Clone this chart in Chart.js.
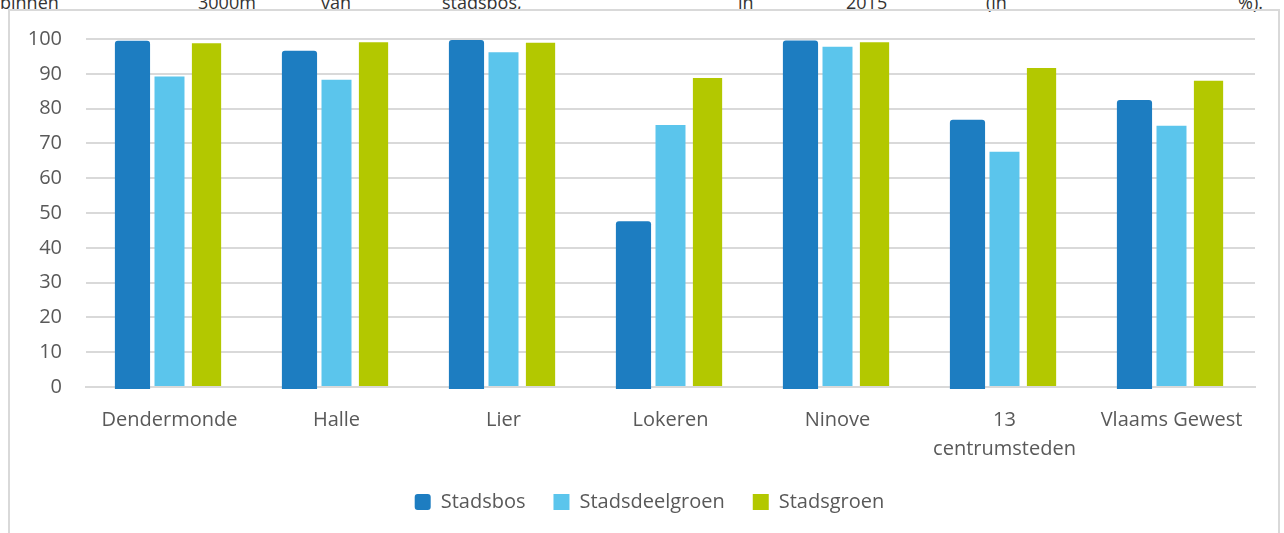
<!DOCTYPE html>
<html>
<head>
<meta charset="utf-8">
<script src="https://cdn.jsdelivr.net/npm/chart.js@4"></script>
<style>
  html, body { margin: 0; padding: 0; background: #fff; overflow: hidden; }
  body { width: 1284px; height: 533px; position: relative; font-family: "Open Sans", sans-serif; }
  .caption span { position: absolute; top: -7px; font-size: 18px; line-height: 18px; color: #333; white-space: nowrap; }
  #frame { position: absolute; left: 8px; top: 9px; width: 1272px; height: 600px; border: 2px solid #d9d9d9; box-sizing: border-box; }
  #wrap { position: absolute; left: 10px; top: 11px; width: 1280px; height: 522px; }
</style>
</head>
<body>
<div class="caption">
  <span style="left:0px">binnen</span>
  <span style="left:198px">3000m</span>
  <span style="left:321px">van</span>
  <span style="left:442px">stadsbos,</span>
  <span style="left:738px">in</span>
  <span style="left:846px">2015</span>
  <span style="left:986px">(in</span>
  <span style="left:1238px">%).</span>
</div>
<div id="frame"></div>
<div id="wrap"><canvas id="chart"></canvas></div>
<script>
  // Aandeel inwoners binnen bereik van groen, per stad
  const categories = ['Dendermonde', 'Halle', 'Lier', 'Lokeren', 'Ninove', ['13', 'centrumsteden'], 'Vlaams Gewest'];
  const stadsbos = [99.5, 96.6, 99.7, 47.6, 99.6, 76.8, 82.5];
  const stadsdeelgroen = [89.2, 88.3, 96.2, 75.3, 97.8, 67.6, 75.1];
  const stadsgroen = [98.8, 99.1, 98.9, 88.8, 99.1, 91.7, 88.0];
  const yTicks = [0, 10, 20, 30, 40, 50, 60, 70, 80, 90, 100];

  const textColor = '#595959';
  const gridColor = '#d9d9d9';

  // nudge the legend row a little to the right of the canvas centre
  const legendShift = {
    id: 'legendShift',
    afterLayout(chart) {
      chart.legend.left += 12;
      chart.legend.right += 12;
    }
  };

  const ctx = document.getElementById('chart');
  new Chart(ctx, {
    type: 'bar',
    data: {
      labels: categories,
      datasets: [
        {
          label: 'Stadsbos',
          data: stadsbos,
          backgroundColor: '#1d7dc1',
          barPercentage: 0.95,
          base: -0.6,
          borderRadius: { topLeft: 3, topRight: 3, bottomLeft: 0, bottomRight: 0 },
          borderSkipped: false
        },
        {
          label: 'Stadsdeelgroen',
          data: stadsdeelgroen,
          backgroundColor: '#5bc5ec',
          barPercentage: 0.81
        },
        {
          label: 'Stadsgroen',
          data: stadsgroen,
          backgroundColor: '#b3c800',
          barPercentage: 0.79
        }
      ]
    },
    options: {
      responsive: true,
      maintainAspectRatio: false,
      animation: false,
      layout: { padding: { left: 10, right: 35, top: 28, bottom: 11 } },
      datasets: { bar: { categoryPercentage: 0.665, clip: false } },
      plugins: {
        tooltip: { enabled: false },
        legend: {
          position: 'bottom',
          labels: {
            color: textColor,
            font: { family: 'Open Sans', size: 20 },
            boxWidth: 16,
            boxHeight: 16,
            padding: 28,
            useBorderRadius: true,
            generateLabels(chart) {
              const items = Chart.defaults.plugins.legend.labels.generateLabels(chart);
              items.forEach((it, i) => {
                it.borderRadius = i === 0 ? 3 : 0;
                it.lineWidth = 0;
              });
              return items;
            }
          }
        }
      },
      scales: {
        x: {
          z: 1,
          grid: { display: false },
          border: { display: true, color: gridColor, width: 2 },
          ticks: {
            color: textColor,
            font: { family: 'Open Sans', size: 20, lineHeight: 1.45 },
            padding: 11,
            maxRotation: 0,
            autoSkip: false
          },
          afterFit(scale) { scale.height = 77; }
        },
        y: {
          min: 0,
          max: 100,
          afterBuildTicks(scale) { scale.ticks = yTicks.map(v => ({ value: v })); },
          grid: { color: gridColor, lineWidth: 2, drawTicks: true, tickLength: 22, tickColor: 'rgba(0,0,0,0)' },
          border: { display: false },
          ticks: {
            color: textColor,
            font: { family: 'Open Sans', size: 20 },
            padding: 2
          },
          afterFit(scale) { scale.width = 66; }
        }
      }
    },
    plugins: [legendShift]
  });
</script>
</body>
</html>
